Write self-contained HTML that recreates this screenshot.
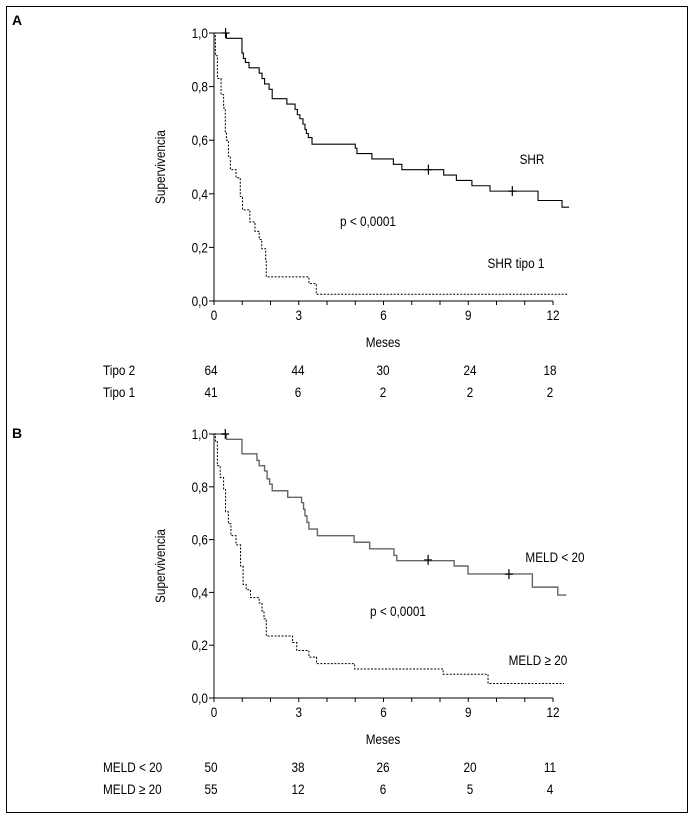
<!DOCTYPE html>
<html><head><meta charset="utf-8"><style>
html,body{margin:0;padding:0;background:#fff;}
svg{display:block;font-family:"Liberation Sans Narrow","Liberation Sans",sans-serif;}
</style></head><body>
<svg id="fig" width="699" height="820" viewBox="0 0 699 820" xmlns="http://www.w3.org/2000/svg">
<rect x="6.5" y="6.5" width="681" height="806" fill="none" stroke="#000" stroke-width="1"/>
<text x="12" y="25" font-size="14" font-weight="bold" font-family="Liberation Sans">A</text>
<text x="12" y="438" font-size="14" font-weight="bold" font-family="Liberation Sans">B</text>
</svg>
<script>
// Panel A data
const xTicks = [0, 3, 6, 9, 12];
const yTicks = [0, 0.2, 0.4, 0.6, 0.8, 1.0];
const yTickLabels = ["0,0", "0,2", "0,4", "0,6", "0,8", "1,0"];
const shrTimes = [0, 0.44, 0.99, 1.04, 1.11, 1.24, 1.6, 1.7, 1.79, 1.95, 2.06, 2.58, 2.87, 2.95, 3.04, 3.15, 3.22, 3.27, 3.34, 3.47, 5.0, 5.06, 5.59, 6.35, 6.65, 8.13, 8.58, 9.13, 9.77, 11.47, 12.32, 12.57];
const shrSurv = [1.0, 0.98, 0.925, 0.905, 0.89, 0.87, 0.85, 0.83, 0.81, 0.79, 0.755, 0.735, 0.715, 0.695, 0.68, 0.66, 0.64, 0.625, 0.61, 0.585, 0.57, 0.55, 0.53, 0.51, 0.49, 0.47, 0.45, 0.43, 0.41, 0.375, 0.35, 0.35];
const shrCensT = [0.41, 7.59, 10.56];
const shrCensS = [1.0, 0.49, 0.41];
const t1Times = [0, 0.05, 0.12, 0.25, 0.34, 0.4, 0.44, 0.51, 0.58, 0.78, 0.93, 1.01, 1.27, 1.45, 1.6, 1.69, 1.83, 1.85, 3.36, 3.62, 12.5];
const t1Surv = [1.0, 0.915, 0.83, 0.77, 0.72, 0.63, 0.6, 0.54, 0.49, 0.46, 0.39, 0.34, 0.295, 0.26, 0.23, 0.195, 0.155, 0.09, 0.065, 0.025, 0.025];
const riskA1 = [64, 44, 30, 24, 18];
const riskA2 = [41, 6, 2, 2, 2];
// Panel B data
const m1Times = [0, 0.44, 0.99, 1.52, 1.6, 1.79, 1.88, 1.97, 2.06, 2.61, 3.1, 3.17, 3.22, 3.29, 3.36, 3.66, 4.96, 5.51, 6.37, 6.47, 8.5, 8.99, 11.27, 12.17, 12.47];
const m1Surv = [1.0, 0.98, 0.925, 0.9, 0.88, 0.86, 0.83, 0.81, 0.785, 0.76, 0.74, 0.715, 0.69, 0.665, 0.64, 0.615, 0.59, 0.565, 0.54, 0.52, 0.5, 0.47, 0.42, 0.39, 0.39];
const m1CensT = [0.4, 7.58, 10.44];
const m1CensS = [1.0, 0.523, 0.469];
const m2Times = [0, 0.05, 0.12, 0.22, 0.34, 0.41, 0.51, 0.6, 0.78, 0.94, 1.03, 1.14, 1.29, 1.6, 1.7, 1.77, 1.85, 2.78, 2.93, 3.36, 3.63, 4.98, 8.11, 9.7, 12.39];
const m2Surv = [1.0, 0.97, 0.88, 0.835, 0.79, 0.705, 0.66, 0.615, 0.58, 0.5, 0.43, 0.41, 0.38, 0.36, 0.33, 0.3, 0.235, 0.21, 0.18, 0.155, 0.13, 0.11, 0.09, 0.055, 0.055];
const riskB1 = [50, 38, 26, 20, 11];
const riskB2 = [55, 12, 6, 5, 4];

const NS = "http://www.w3.org/2000/svg";
const svg = document.getElementById("fig");
function mk(tag, attrs, parent) {
  const e = document.createElementNS(NS, tag);
  for (const k in attrs) e.setAttribute(k, attrs[k]);
  (parent || svg).appendChild(e);
  return e;
}
const X0 = 214, PXM = 28.25;
function sx(t) { return X0 + t * PXM; }
const FS = 14;

function panel(key, yTop, yBot, curves, labels, rowNames, risks, rowY, axisColor) {
  const g = mk("g", {});
  
  
  const sy = v => yBot - v * (yBot - yTop);
  const ya = mk("line", {x1: X0, y1: yTop, x2: X0, y2: yBot, stroke: axisColor, "stroke-width": axisColor === "#000" ? 1 : 2}, g);
  
  
  const xa = mk("line", {x1: X0, y1: yBot, x2: sx(12), y2: yBot, stroke: "#000"}, g);
  
  
  yTicks.forEach((v, i) => {
    mk("line", {x1: X0 - 5, y1: sy(v), x2: X0, y2: sy(v), stroke: "#000"}, g);
    const t = mk("text", {x: X0 - 6, y: sy(v) + 5, "font-size": FS, "text-anchor": "end", class: "cond"}, g);
    t.textContent = yTickLabels[i];
    
    
  });
  for (let m = 0; m <= 12; m++) mk("line", {x1: sx(m), y1: yBot, x2: sx(m), y2: yBot + 4, stroke: "#000"}, g);
  xTicks.forEach(v => {
    const t = mk("text", {x: sx(v), y: yBot + 19, "font-size": FS, "text-anchor": "middle", class: "cond"}, g);
    t.textContent = v;
    
    
  });
  const xt = mk("text", {x: 383, y: yBot + 46, "font-size": FS, "text-anchor": "middle", class: "cond"}, g);
  xt.textContent = "Meses";
  
  
  const cy = (yTop + yBot) / 2;
  const yt = mk("text", {x: 165, y: cy, "font-size": FS, "text-anchor": "middle", transform: "rotate(-90 165 " + cy + ")", class: "cond"}, g);
  yt.textContent = "Supervivencia";
  
  
  curves.forEach(c => {
    let d = "M" + sx(c.t[0]) + "," + sy(c.s[0]);
    for (let i = 1; i < c.t.length; i++) d += "H" + sx(c.t[i]) + "V" + sy(c.s[i]);
    const p = mk("path", {d: d, fill: "none", stroke: c.color, "stroke-width": c.w, "stroke-dasharray": c.dash || "none"}, g);
    
    
    if (c.ct) c.ct.forEach((t, i) => {
      const x = sx(t), y = sy(c.cs[i]);
      const cm = mk("path", {d: "M" + (x - 4) + "," + y + "H" + (x + 4) + "M" + x + "," + (y - 5) + "V" + (y + 5), stroke: "#000", "stroke-width": 1.2}, g);
      
      
    });
  });
  labels.forEach(l => {
    const t = mk("text", {x: l.x, y: l.y, "font-size": FS, "text-anchor": "middle", class: "cond"}, g);
    t.textContent = l.text;
    
    
  });
  const riskX = [211, 298, 383, 470, 550];
  risks.forEach((row, r) => {
    const n = mk("text", {x: 103, y: rowY[r], "font-size": FS, class: "cond"}, g);
    n.textContent = rowNames[r];
    
    
    row.forEach((v, i) => {
      const t = mk("text", {x: riskX[i], y: rowY[r], "font-size": FS, "text-anchor": "middle", class: "cond"}, g);
      t.textContent = v;
      
      
    });
  });
}

panel("panel-a", 33, 301,
  [{t: shrTimes, s: shrSurv, color: "#000", w: 1.1, name: "shr-curve", ct: shrCensT, cs: shrCensS},
   {t: t1Times, s: t1Surv, color: "#000", w: 1, dash: "2,1.5", name: "shr-tipo1-curve"}],
  [{x: 532, y: 164, text: "SHR", name: "shr-label"},
   {x: 368, y: 226, text: "p < 0,0001", name: "p-value-a"},
   {x: 516, y: 268, text: "SHR tipo 1", name: "shr-tipo1-label"}],
  ["Tipo 2", "Tipo 1"], [riskA1, riskA2], [375, 397], "#000");

panel("panel-b", 434, 698,
  [{t: m1Times, s: m1Surv, color: "#666", w: 1.4, name: "meld-lt20-curve", ct: m1CensT, cs: m1CensS},
   {t: m2Times, s: m2Surv, color: "#000", w: 1, dash: "2,1.5", name: "meld-ge20-curve"}],
  [{x: 555, y: 562, text: "MELD < 20", name: "meld-lt20-label"},
   {x: 398, y: 616, text: "p < 0,0001", name: "p-value-b"},
   {x: 538, y: 665, text: "MELD ≥ 20", name: "meld-ge20-label"}],
  ["MELD < 20", "MELD ≥ 20"], [riskB1, riskB2], [772, 794], "#888");

// condense text to mimic narrow font
document.querySelectorAll("text.cond").forEach(t => {
  const w = t.getComputedTextLength();
  if (w > 0) {
    t.setAttribute("textLength", (w * 0.84).toFixed(1));
    t.setAttribute("lengthAdjust", "spacingAndGlyphs");
  }
});
</script>
</body></html>
